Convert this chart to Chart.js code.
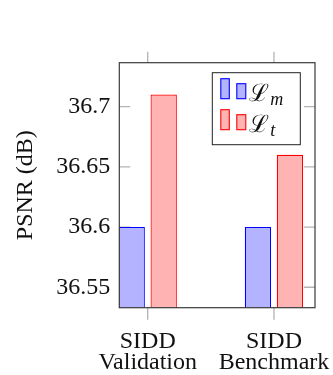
<!DOCTYPE html>
<html>
<head>
<meta charset="utf-8">
<script src="https://cdn.jsdelivr.net/npm/chart.js@4.4.1/dist/chart.umd.min.js"></script>
<style>
  html, body { margin: 0; padding: 0; background: #fff; }
  canvas { display: block; }
</style>
</head>
<body>
<canvas id="psnrChart" width="333" height="375"></canvas>
<script>
// data
const categories = [["SIDD", "Validation"], ["SIDD", "Benchmark"]];
const lmValues = [36.6, 36.6];
const ltValues = [36.71, 36.66];
const yTicks = [36.55, 36.6, 36.65, 36.7];
const seriesBase = ["ℒ", "ℒ"];
const seriesSub = ["m", "t"];

const FONT = "'Liberation Serif', 'DejaVu Serif', serif";

const toPoints = vals => vals.map((v, i) => ({ x: i, y: v }));

// ticks, frame and legend drawn by hand (pgfplots look)
const axisDecor = {
    id: "axisDecor",
    beforeDatasetsDraw(chart) {
        const { ctx, chartArea: a, scales } = chart;
        ctx.save();
        ctx.strokeStyle = "#b4b4b4";
        ctx.lineWidth = 1.3;
        ctx.beginPath();
        yTicks.forEach(v => {
            const y = scales.y.getPixelForValue(v);
            ctx.moveTo(a.left, y); ctx.lineTo(a.left + 11, y);
            ctx.moveTo(a.right, y); ctx.lineTo(a.right - 11, y);
        });
        categories.forEach((c, i) => {
            const x = scales.x.getPixelForValue(i);
            ctx.moveTo(x, a.top); ctx.lineTo(x, a.top - 11);
            ctx.moveTo(x, a.bottom); ctx.lineTo(x, a.bottom + 12);
        });
        ctx.stroke();
        ctx.restore();
    },
    afterDatasetsDraw(chart) {
        const { ctx, chartArea: a } = chart;
        ctx.save();
        ctx.strokeStyle = "#3a3a3a";
        ctx.lineWidth = 1.2;
        ctx.strokeRect(a.left, a.top, a.right - a.left, a.bottom - a.top);

        // legend box
        const bx = a.left + 93, by = a.top + 10, bw = 88, bh = 72;
        ctx.fillStyle = "#fff";
        ctx.fillRect(bx, by, bw, bh);
        ctx.strokeStyle = "#222";
        ctx.lineWidth = 1;
        ctx.strokeRect(bx, by, bw, bh);

        chart.data.datasets.forEach((ds, i) => {
            const rowBottom = by + 26 + i * 31;
            ctx.fillStyle = ds.backgroundColor;
            ctx.strokeStyle = ds.borderColor;
            ctx.lineWidth = 1.1;
            ctx.fillRect(bx + 8.5, rowBottom - 20, 8.5, 20);
            ctx.strokeRect(bx + 8.5, rowBottom - 20, 8.5, 20);
            ctx.fillRect(bx + 24.5, rowBottom - 15, 9, 15);
            ctx.strokeRect(bx + 24.5, rowBottom - 15, 9, 15);

            ctx.fillStyle = "#111";
            ctx.textBaseline = "alphabetic";
            ctx.textAlign = "left";
            ctx.font = "24px " + FONT;
            ctx.fillText(seriesBase[i], bx + 37, rowBottom + 2);
            const w = ctx.measureText(seriesBase[i]).width;
            ctx.font = "italic 18px " + FONT;
            ctx.fillText(seriesSub[i], bx + 38 + w, rowBottom + 6);
        });
        ctx.restore();
    }
};

new Chart(document.getElementById("psnrChart"), {
    type: "bar",
    data: {
        datasets: [{
            label: "Lm",
            data: toPoints(lmValues),
            backgroundColor: "rgb(179,179,255)",
            borderColor: "rgb(0,0,255)",
            borderWidth: 1.2,
            borderSkipped: "bottom"
        }, {
            label: "Lt",
            data: toPoints(ltValues),
            backgroundColor: "rgb(255,179,179)",
            borderColor: "rgb(255,0,0)",
            borderWidth: 1.2,
            borderSkipped: "bottom"
        }]
    },
    options: {
        responsive: false,
        animation: false,
        devicePixelRatio: 1,
        categoryPercentage: 0.507,
        barPercentage: 0.822,
        layout: { padding: { top: 62.7, right: 18, left: 0, bottom: 0 } },
        plugins: { legend: { display: false }, tooltip: { enabled: false } },
        scales: {
            x: {
                type: "linear",
                offset: false,
                min: -0.225,
                max: 1.325,
                grid: { display: false, drawTicks: false },
                border: { display: false },
                afterBuildTicks: s => { s.ticks = categories.map((c, i) => ({ value: i })); },
                afterFit: s => { s.height = 67.3; s.paddingLeft = 0; s.paddingRight = 0; },
                ticks: {
                    padding: 24,
                    maxRotation: 0,
                    autoSkip: false,
                    color: "#111",
                    font: { family: FONT, size: 24, lineHeight: "21px" },
                    callback: v => categories[v]
                }
            },
            y: {
                min: 36.533,
                max: 36.7365,
                beginAtZero: false,
                grid: { display: false, drawTicks: false },
                border: { display: false },
                afterBuildTicks: s => { s.ticks = yTicks.map(v => ({ value: v })); },
                afterFit: s => { s.width = 119.3; s.paddingTop = 0; s.paddingBottom = 0; },
                ticks: {
                    padding: 9,
                    color: "#111",
                    font: { family: FONT, size: 24 },
                    callback: v => String(v)
                },
                title: {
                    display: true,
                    text: "PSNR (dB)",
                    color: "#111",
                    font: { family: FONT, size: 24, lineHeight: 1 },
                    padding: { top: 14, bottom: 0 }
                }
            }
        }
    },
    plugins: [axisDecor]
});
</script>
</body>
</html>
